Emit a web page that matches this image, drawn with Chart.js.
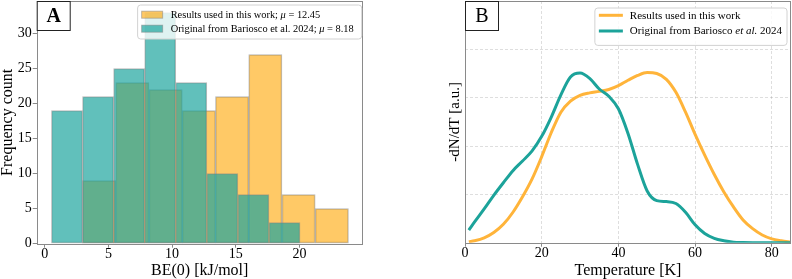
<!DOCTYPE html>
<html>
<head>
<meta charset="utf-8">
<script src="https://cdn.jsdelivr.net/npm/chart.js@4"></script>
<style>
  html, body { margin: 0; padding: 0; background: #fff; }
  #wrap { position: relative; width: 792px; height: 279px; overflow: hidden; }
  #panelA { position: absolute; left: 0; top: 0; }
  #panelB { position: absolute; left: 400px; top: 0; }
</style>
</head>
<body>
<div id="wrap">
  <canvas id="panelA" width="400" height="279"></canvas>
  <canvas id="panelB" width="392" height="279"></canvas>
</div>
<script>
// ---- panel A : BE(0) histograms ----
var resultsEdges = [2.97, 5.58, 8.19, 10.80, 13.41, 16.02, 18.63, 21.24, 23.85];
var resultsCounts = [9, 23, 22, 19, 21, 27, 7, 5];
var originalEdges = [0.53, 2.97, 5.41, 7.85, 10.29, 12.73, 15.17, 17.61, 20.05];
var originalCounts = [19, 21, 25, 33, 23, 10, 7, 3];
var seriesNames = ['Results used in this work', 'Original from Bariosco et al. 2024'];
var seriesMeans = [12.45, 8.18];
var beTicks = [0, 5, 10, 15, 20];
var countTicks = [0, 5, 10, 15, 20, 25, 30];

// ---- panel B : desorption curves ----
var tempK = [1, 2.5, 5, 7.5, 10, 12.5, 15, 17.5, 20, 22.5, 25, 27.5, 30, 32.5, 35, 37.5, 40,
  42.5, 45, 47.5, 50, 52.5, 55, 57.5, 60, 62.5, 65, 67.5, 70, 72.5, 75, 77.5, 80, 82.5, 85];
var resultsRate = [0.02, 0.04, 0.10, 0.21, 0.38, 0.63, 0.95, 1.32, 1.78, 2.28, 2.70, 2.93, 3.05,
  3.10, 3.13, 3.17, 3.25, 3.36, 3.46, 3.52, 3.50, 3.38, 3.11, 2.70, 2.24, 1.81, 1.41, 1.05, 0.74,
  0.47, 0.29, 0.16, 0.08, 0.04, 0.01];
var originalRate = [0.26, 0.43, 0.70, 0.98, 1.24, 1.49, 1.69, 1.90, 2.20, 2.60, 3.06, 3.43, 3.51,
  3.40, 3.18, 3.03, 2.77, 2.26, 1.62, 1.07, 0.87, 0.85, 0.81, 0.63, 0.37, 0.19, 0.09, 0.04, 0.01,
  0.003, 0, 0, 0, 0, 0];
var tempTicks = [0, 20, 40, 60, 80];
var rateGrid = [1, 2, 3, 4];
var legendB = [
  [['Results used in this work', false]],
  [['Original from Bariosco ', false], ['et al.', true], [' 2024', false]]
];

var serif = "'Liberation Serif', 'DejaVu Serif', serif";
var orangeFill = 'rgba(255,165,0,0.6)';
var tealFill = 'rgba(30,165,158,0.7)';
var orangeLine = '#ffb43a';
var tealLine = '#1ca39a';
var spine = '#8a8a8a';

Chart.defaults.font.family = serif;
Chart.defaults.color = '#000';

function toBars(edges, counts) {
  return counts.map(function (c, i) {
    return { x: (edges[i] + edges[i + 1]) / 2, y: c };
  });
}

function fixedTicks(list) {
  return function (axis) {
    axis.ticks = list.map(function (v) { return { value: v }; });
  };
}

function drawRich(ctx, x, y, parts, size) {
  parts.forEach(function (p) {
    ctx.font = (p[1] ? 'italic ' : '') + size + 'px ' + serif;
    ctx.fillText(p[0], x, y);
    x += ctx.measureText(p[0]).width;
  });
  return x;
}

function richWidth(ctx, parts, size) {
  var w = 0;
  parts.forEach(function (p) {
    ctx.font = (p[1] ? 'italic ' : '') + size + 'px ' + serif;
    w += ctx.measureText(p[0]).width;
  });
  return w;
}

function roundBox(ctx, x, y, w, h, r) {
  ctx.beginPath();
  ctx.moveTo(x + r, y);
  ctx.lineTo(x + w - r, y);
  ctx.quadraticCurveTo(x + w, y, x + w, y + r);
  ctx.lineTo(x + w, y + h - r);
  ctx.quadraticCurveTo(x + w, y + h, x + w - r, y + h);
  ctx.lineTo(x + r, y + h);
  ctx.quadraticCurveTo(x, y + h, x, y + h - r);
  ctx.lineTo(x, y + r);
  ctx.quadraticCurveTo(x, y, x + r, y);
  ctx.closePath();
}

// frame, panel letter and legend drawn over the plot
function decor(letter, bold, legend) {
  return {
    id: 'decor' + letter,
    afterDraw: function (chart) {
      var ctx = chart.ctx, a = chart.chartArea;
      ctx.save();
      ctx.strokeStyle = spine;
      ctx.lineWidth = 1;
      ctx.strokeRect(Math.round(a.left) + 0.5, Math.round(a.top) + 0.5,
        Math.round(a.right - a.left) - 1, Math.round(a.bottom - a.top));

      // panel letter
      ctx.fillStyle = '#fff';
      ctx.fillRect(a.left + 0.5, a.top + 0.5, 33, 29);
      ctx.strokeStyle = '#222';
      ctx.strokeRect(a.left + 0.5, a.top + 0.5, 33, 29);
      ctx.fillStyle = '#000';
      ctx.font = (bold ? 'bold ' : '') + '20px ' + serif;
      ctx.textAlign = 'center';
      ctx.textBaseline = 'middle';
      ctx.fillText(letter, a.left + 17, a.top + 16);

      // legend
      var size = legend.size;
      var textW = 0;
      legend.rows.forEach(function (r) { textW = Math.max(textW, richWidth(ctx, r.parts, size)); });
      var w = legend.textX + textW + legend.padR;
      var h = legend.rowGap * 2 + 6;
      var x = a.right - legend.right - w;
      var y = a.top + legend.top;
      roundBox(ctx, x, y, w, h, 3);
      ctx.fillStyle = 'rgba(255,255,255,0.8)';
      ctx.fill();
      ctx.strokeStyle = '#d2d2d2';
      ctx.stroke();
      ctx.textAlign = 'left';
      legend.rows.forEach(function (r, i) {
        var cy = y + legend.firstRow + i * legend.rowGap;
        if (legend.kind === 'patch') {
          ctx.fillStyle = r.color;
          ctx.fillRect(x + 4, cy - 3.5, 21, 7);
          ctx.strokeStyle = 'rgba(128,128,128,0.5)';
          ctx.strokeRect(x + 4, cy - 3.5, 21, 7);
        } else {
          ctx.strokeStyle = r.color;
          ctx.lineWidth = 3;
          ctx.beginPath();
          ctx.moveTo(x + 4, cy);
          ctx.lineTo(x + 28, cy);
          ctx.stroke();
          ctx.lineWidth = 1;
        }
        ctx.fillStyle = '#000';
        drawRich(ctx, x + legend.textX, cy + 0.5, r.parts, size);
      });
      ctx.restore();
    }
  };
}

// ---- chart A ----
new Chart(document.getElementById('panelA'), {
  type: 'bar',
  data: {
    datasets: [
      {
        label: seriesNames[0],
        data: toBars(resultsEdges, resultsCounts),
        xAxisID: 'x2',
        order: 2,
        grouped: false,
        backgroundColor: orangeFill,
        borderColor: 'rgba(128,128,128,0.55)',
        borderWidth: 1,
        borderSkipped: false,
        barPercentage: 1,
        categoryPercentage: 1
      },
      {
        label: seriesNames[1],
        data: toBars(originalEdges, originalCounts),
        xAxisID: 'x',
        order: 1,
        grouped: false,
        backgroundColor: tealFill,
        borderColor: 'rgba(128,128,128,0.55)',
        borderWidth: 1,
        borderSkipped: false,
        barPercentage: 1,
        categoryPercentage: 1
      }
    ]
  },
  options: {
    responsive: false,
    animation: false,
    layout: { padding: { left: 0, top: 1, right: 37.3, bottom: 0 } },
    plugins: { legend: { display: false }, tooltip: { enabled: false } },
    scales: {
      x: {
        type: 'linear',
        min: -0.63,
        max: 24.97,
        offset: false,
        afterBuildTicks: fixedTicks(beTicks),
        afterFit: function (axis) { axis.height = 35.3; axis.paddingLeft = 0; axis.paddingRight = 0; },
        grid: { drawOnChartArea: false, offset: false, tickLength: 4, tickColor: spine },
        border: { display: false },
        ticks: { font: { size: 14, lineHeight: 1 }, padding: 0, maxRotation: 0 },
        title: { display: true, text: 'BE(0) [kJ/mol]', font: { size: 16, lineHeight: 1 }, padding: 0 }
      },
      x2: {
        type: 'linear',
        display: false,
        min: -0.63,
        max: 24.97,
        offset: false
      },
      y: {
        min: 0,
        max: 34.65,
        afterBuildTicks: fixedTicks(countTicks),
        afterFit: function (axis) { axis.width = 36.7; axis.paddingTop = 0; axis.paddingBottom = 0; },
        grid: { drawOnChartArea: false, tickLength: 4, tickColor: spine },
        border: { display: false },
        ticks: { font: { size: 14, lineHeight: 1 }, padding: 1 },
        title: { display: true, text: 'Frequency count', font: { size: 16, lineHeight: 1 }, padding: 0 }
      }
    }
  },
  plugins: [decor('A', true, {
    kind: 'patch', size: 10.4, right: 1, top: 4, textX: 33, padR: 8, firstRow: 9.7, rowGap: 14,
    rows: [
      { color: orangeFill, parts: [[seriesNames[0] + '; ', false], ['\u03bc', true], [' = ' + seriesMeans[0].toFixed(2), false]] },
      { color: tealFill, parts: [[seriesNames[1] + '; ', false], ['\u03bc', true], [' = ' + seriesMeans[1].toFixed(2), false]] }
    ]
  })]
});

// ---- chart B ----
function curve(values) {
  return values.map(function (v, i) { return { x: tempK[i], y: v }; });
}

new Chart(document.getElementById('panelB'), {
  type: 'line',
  data: {
    datasets: [
      {
        label: 'Results used in this work',
        data: curve(resultsRate),
        order: 2,
        borderColor: orangeLine,
        borderWidth: 3,
        pointRadius: 0,
        cubicInterpolationMode: 'monotone'
      },
      {
        label: 'Original from Bariosco et al. 2024',
        data: curve(originalRate),
        order: 1,
        borderColor: tealLine,
        borderWidth: 3,
        pointRadius: 0,
        cubicInterpolationMode: 'monotone'
      }
    ]
  },
  options: {
    responsive: false,
    animation: false,
    layout: { padding: { left: 0, top: 1, right: 1, bottom: 0 } },
    plugins: { legend: { display: false }, tooltip: { enabled: false } },
    scales: {
      x: {
        type: 'linear',
        min: 0,
        max: 85,
        afterBuildTicks: fixedTicks(tempTicks),
        afterFit: function (axis) { axis.height = 36.3; axis.paddingLeft = 0; axis.paddingRight = 0; },
        grid: { color: 'rgba(0,0,0,0.13)', tickLength: 4, tickColor: spine },
        border: { display: false, dash: [3, 2] },
        ticks: { font: { size: 14, lineHeight: 1 }, padding: 0, maxRotation: 0 },
        title: { display: true, text: 'Temperature [K]', font: { size: 16, lineHeight: 1 }, padding: 0 }
      },
      y: {
        min: 0,
        max: 5,
        afterBuildTicks: fixedTicks(rateGrid),
        afterFit: function (axis) { axis.width = 65; axis.paddingTop = 0; axis.paddingBottom = 0; },
        grid: { color: 'rgba(0,0,0,0.13)', drawTicks: false },
        border: { display: false, dash: [3, 2] },
        ticks: { display: false },
        title: { display: true, text: '-dN/dT [a.u.]', font: { size: 15, lineHeight: 1 }, padding: { top: 47.5, bottom: 0 } }
      }
    }
  },
  plugins: [decor('B', false, {
    kind: 'line', size: 11, right: 4, top: 7, textX: 35, padR: 5, firstRow: 7.3, rowGap: 15.7,
    rows: [
      { color: orangeLine, parts: legendB[0] },
      { color: tealLine, parts: legendB[1] }
    ]
  })]
});
</script>
</body>
</html>
